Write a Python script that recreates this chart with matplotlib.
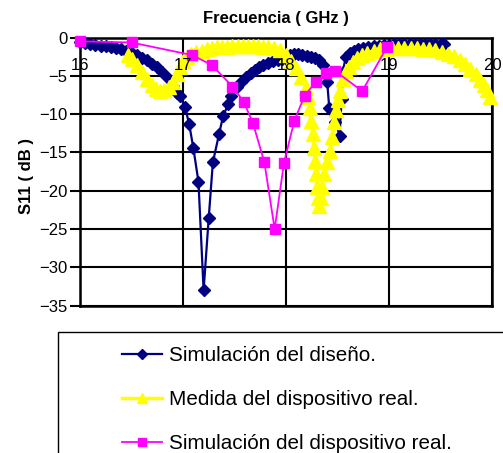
import matplotlib
matplotlib.use("Agg")
import matplotlib.pyplot as plt
from matplotlib.patches import Rectangle

plt.rcParams['font.family'] = ['Liberation Sans', 'DejaVu Sans']

# Simulación del diseño (azul)
freq_diseno = [16.00, 16.05, 16.10, 16.15, 16.20, 16.25, 16.30, 16.35, 16.40, 16.45,
               16.50, 16.55, 16.60, 16.65, 16.70, 16.75, 16.80, 16.85, 16.90, 16.94,
               16.97, 17.02, 17.06, 17.10, 17.15, 17.20, 17.25, 17.29, 17.35, 17.39,
               17.44, 17.47, 17.52, 17.56, 17.61, 17.66, 17.70, 17.74, 17.78, 17.83,
               17.87, 17.92, 17.96, 18.00, 18.04, 18.08, 18.12, 18.16, 18.20, 18.24,
               18.28, 18.32, 18.36, 18.40, 18.42, 18.45, 18.48, 18.52, 18.54, 18.55,
               18.58, 18.62, 18.66, 18.70, 18.75, 18.80, 18.85, 18.90, 18.95, 19.00,
               19.05, 19.10, 19.15, 19.20, 19.25, 19.30, 19.35, 19.40, 19.45, 19.50,
               19.53]
s11_diseno = [-0.65, -0.75, -0.85, -0.95, -1.05, -1.15, -1.25, -1.4, -1.55, -1.75,
              -2.0, -2.3, -2.65, -3.0, -3.4, -3.9, -4.5, -5.3, -6.3, -7.2,
              -7.6, -9.1, -11.3, -14.4, -18.8, -33.0, -23.5, -16.3, -12.6, -10.2,
              -8.7, -7.6, -6.5, -5.8, -5.2, -4.6, -4.2, -3.9, -3.6, -3.3,
              -3.1, -2.95, -2.8, -2.5, -2.3, -2.2, -2.2, -2.3, -2.4, -2.5,
              -2.7, -3.0, -3.6, -5.8, -9.2, -9.6, -11.0, -12.8, -8.0, -4.5,
              -2.6, -2.0, -1.7, -1.5, -1.35, -1.25, -1.15, -1.05, -1.0, -0.95,
              -0.9, -0.9, -0.85, -0.85, -0.8, -0.8, -0.8, -0.8, -0.8, -0.8,
              -0.85]

# Medida del dispositivo real (amarillo)
freq_medida = [16.47, 16.50, 16.55, 16.60, 16.65, 16.70, 16.74, 16.78, 16.82, 16.86,
               16.90, 16.94, 16.97, 17.00, 17.04, 17.08, 17.13, 17.18, 17.23, 17.28,
               17.33, 17.38, 17.43, 17.48, 17.53, 17.58, 17.63, 17.68, 17.73, 17.78,
               17.83, 17.88, 17.94, 18.00, 18.05, 18.10, 18.15, 18.19, 18.21, 18.23,
               18.24, 18.26, 18.27, 18.28, 18.29, 18.30, 18.31, 18.32, 18.34, 18.35,
               18.37, 18.40, 18.43, 18.45, 18.47, 18.49, 18.50, 18.52, 18.55, 18.58,
               18.61, 18.65, 18.69, 18.74, 18.79, 18.85, 18.91, 18.97, 19.03, 19.09,
               19.15, 19.21, 19.27, 19.33, 19.39, 19.45, 19.51, 19.57, 19.63, 19.69,
               19.74, 19.79, 19.84, 19.88, 19.92, 19.95, 19.98]
s11_medida = [-2.3, -2.8, -3.6, -4.5, -5.4, -6.2, -6.7, -7.0, -6.9, -6.5,
              -5.8, -4.7, -3.8, -3.1, -2.5, -2.1, -1.9, -1.7, -1.55, -1.4,
              -1.3, -1.25, -1.2, -1.15, -1.1, -1.1, -1.1, -1.1, -1.15, -1.2,
              -1.3, -1.4, -1.6, -2.3, -3.1, -4.0, -5.2, -6.6, -7.8, -9.2,
              -10.9, -12.6, -14.4, -16.1, -17.8, -19.5, -21.0, -22.0, -21.0, -19.5,
              -17.8, -16.3, -14.8, -13.0, -11.0, -9.5, -8.2, -7.0, -5.4, -4.4,
              -3.8, -3.2, -2.7, -2.3, -2.0, -1.75, -1.55, -1.45, -1.38, -1.35,
              -1.35, -1.35, -1.38, -1.45, -1.55, -1.65, -1.85, -2.1, -2.4, -2.9,
              -3.5, -4.1, -4.8, -5.5, -6.2, -6.9, -7.7]

# Simulación del dispositivo real (magenta)
freq_sim_real = [16.00, 16.50, 17.09, 17.28, 17.48, 17.59, 17.68, 17.79, 17.89,
                 17.98, 18.08, 18.18, 18.29, 18.39, 18.48, 18.74, 18.98]
s11_sim_real = [-0.5, -0.65, -2.3, -3.6, -6.4, -8.4, -11.2, -16.3, -25.0,
                -16.4, -10.9, -7.6, -5.8, -4.6, -4.4, -7.0, -1.25]

etiquetas = ["Simulación del diseño.",
             "Medida del dispositivo real.",
             "Simulación del dispositivo real."]
x_ticks = [16, 17, 18, 19, 20]
y_ticks = [0, -5, -10, -15, -20, -25, -30, -35]

W, H = 503, 453
fig = plt.figure(figsize=(W / 100, H / 100), dpi=100)
pos = [80 / W, 1 - 305.7 / H, 412 / W, (305.7 - 37.5) / H]
ax = fig.add_axes(pos)

l1, = ax.plot(freq_diseno, s11_diseno, color='#000080', lw=1.6, marker='D',
              ms=6.2, mec='#000080', clip_on=False, zorder=3)
l2, = ax.plot(freq_medida, s11_medida, color='#FFFF00', lw=2.5, marker='^',
              ms=10, mec='#FFFF00', clip_on=False, zorder=4)
l3, = ax.plot(freq_sim_real, s11_sim_real, color='#FF00FF', lw=1.3, marker='s',
              ms=7.5, mec='#FF00FF', clip_on=False, zorder=5)

ax.set_xlim(16, 20)
ax.set_ylim(-35, 0)
ax.set_xticks(x_ticks)
ax.set_yticks(y_ticks)
ax.grid(True, color='black', linewidth=1.5)
for sp in ax.spines.values():
    sp.set_linewidth(1.8)
    sp.set_color('black')
ax.tick_params(axis='x', length=0, labeltop=False, labelbottom=False)
ax.tick_params(axis='y', direction='out', length=7, width=1.5, pad=2,
               labelsize=12)

# etiquetas del eje x dentro del gráfico, por encima de las curvas
ax_lbl = fig.add_axes(pos, sharex=ax, zorder=ax.get_zorder() + 1)
ax_lbl.patch.set_visible(False)
ax_lbl.yaxis.set_visible(False)
for sp in ax_lbl.spines.values():
    sp.set_visible(False)
ax_lbl.tick_params(axis='x', length=0, labeltop=True, labelbottom=False,
                   pad=-25.5, labelsize=12)

fig.text(276 / W, 1 - 18 / H, "Frecuencia ( GHz )", fontsize=12,
         fontweight='bold', ha='center', va='center')
fig.text(27 / W, 1 - 176 / H, "S11 ( dB )", fontsize=12, fontweight='bold',
         rotation=90, ha='center', va='center')

fig.add_artist(Rectangle((58 / W, -0.1), 1.0, (1 - 332 / H) + 0.1,
                         transform=fig.transFigure, fill=False,
                         edgecolor='black', lw=1.0))
leg = fig.legend([l1, l2, l3], etiquetas, loc='upper left',
                 bbox_to_anchor=(122 / W, 1 - 346 / H), frameon=False,
                 fontsize=14.9, handlelength=1.95, handletextpad=0.3,
                 labelspacing=1.22, borderpad=0, borderaxespad=0)
for h, m in zip(leg.legend_handles, [5, 7, 6]):
    h.set_markersize(m)

fig.savefig("out.png", dpi=100)
